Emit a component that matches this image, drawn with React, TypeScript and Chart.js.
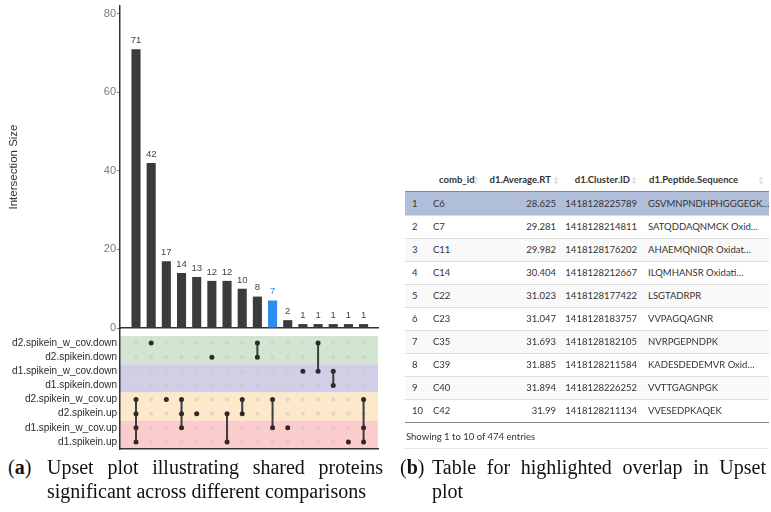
import React, { useEffect, useRef } from 'react';
import { Chart, registerables } from 'chart.js';

Chart.register(...registerables);

// ---------- data ----------
const setNames = [
  'd2.spikein_w_cov.down',
  'd2.spikein.down',
  'd1.spikein_w_cov.down',
  'd1.spikein.down',
  'd2.spikein_w_cov.up',
  'd2.spikein.up',
  'd1.spikein_w_cov.up',
  'd1.spikein.up',
];
const intersectionSizes = [71, 42, 17, 14, 13, 12, 12, 10, 8, 7, 2, 1, 1, 1, 1, 1];
// set indices (rows above) that make up each intersection column
const intersectionMembers = [
  [4, 5, 6, 7],
  [0],
  [4],
  [4, 5, 6],
  [5],
  [1],
  [5, 7],
  [4, 5],
  [0, 1],
  [4, 6],
  [6],
  [2],
  [0, 2],
  [2, 3],
  [7],
  [4, 6, 7],
];
const highlightedIntersection = 9;
const sizeAxisMax = 82;
const sizeTickStep = 20;

const tableHeaders = ['', 'comb_id', 'd1.Average.RT', 'd1.Cluster.ID', 'd1.Peptide.Sequence'];
const combIds = ['C6', 'C7', 'C11', 'C14', 'C22', 'C23', 'C35', 'C39', 'C40', 'C42'];
const averageRT = ['28.625', '29.281', '29.982', '30.404', '31.023', '31.047', '31.693', '31.885', '31.894', '31.99'];
const clusterIds = [
  '1418128225789', '1418128214811', '1418128176202', '1418128212667', '1418128177422',
  '1418128183757', '1418128182105', '1418128211584', '1418128226252', '1418128211134',
];
const peptides = [
  'GSVMNPNDHPHGGGEGK…', 'SATQDDAQNMCK Oxid…', 'AHAEMQNIQR Oxidat…', 'ILQMHANSR Oxidati…', 'LSGTADRPR',
  'VVPAGQAGNR', 'NVRPGEPNDPK', 'KADESDEDEMVR Oxid…', 'VVTTGAGNPGK', 'VVESEDPKAQEK',
];
const totalEntries = 474;

// ---------- styles ----------
const SANS = '"Liberation Sans", Arial, Helvetica, sans-serif';
const DARK = '#3b3b3b';
const BLUE = '#2d8cf0';
const AXIS = '#333333';
const BAND_COLORS = ['#d2e5d1', '#d0cfe6', '#fde9c9', '#fccbcb'];
const X_MIN = -1.055;
const X_MAX = 15.95;

const barLabelPlugin = {
  id: 'barLabels',
  afterDatasetsDraw(chart: any) {
    const meta = chart.getDatasetMeta(0);
    const ctx = chart.ctx;
    ctx.save();
    ctx.font = `9.5px ${SANS}`;
    ctx.textAlign = 'center';
    ctx.textBaseline = 'bottom';
    meta.data.forEach((el: any, i: number) => {
      ctx.fillStyle = i === highlightedIntersection ? BLUE : '#444';
      ctx.fillText(String(intersectionSizes[i]), el.x, el.y - 4);
    });
    ctx.restore();
  },
};

const bandPlugin = {
  id: 'bands',
  beforeDraw(chart: any) {
    const { ctx, chartArea, scales } = chart;
    const y = scales.y;
    ctx.save();
    BAND_COLORS.forEach((c, k) => {
      const y0 = y.getPixelForValue(2 * k - 0.5);
      const y1 = y.getPixelForValue(2 * k + 1.5);
      ctx.fillStyle = c;
      ctx.fillRect(chartArea.left, Math.min(y0, y1), chartArea.right - chartArea.left, Math.abs(y1 - y0));
    });
    ctx.restore();
  },
};

function UpsetBars() {
  const ref = useRef<HTMLCanvasElement>(null);
  useEffect(() => {
    const chart = new Chart(ref.current as HTMLCanvasElement, {
      type: 'bar',
      data: {
        datasets: [
          {
            data: intersectionSizes.map((v, i) => ({ x: i, y: v })) as any,
            backgroundColor: intersectionSizes.map((_, i) => (i === highlightedIntersection ? BLUE : DARK)),
            barPercentage: 0.6,
            categoryPercentage: 1,
          },
        ],
      },
      options: {
        animation: false,
        responsive: false,
        devicePixelRatio: 1,
        layout: { padding: { top: 6, right: 12, bottom: 0, left: 0 } },
        plugins: { legend: { display: false }, tooltip: { enabled: false } },
        scales: {
          x: {
            type: 'linear',
            min: X_MIN,
            max: X_MAX,
            offset: false,
            ticks: { display: false },
            grid: { display: false, drawTicks: false },
            border: { display: true, color: AXIS, width: 1.5 },
            afterFit(s: any) {
              s.height = 8;
              s.paddingLeft = 0;
              s.paddingRight = 0;
            },
          },
          y: {
            type: 'linear',
            min: 0,
            max: sizeAxisMax,
            ticks: {
              stepSize: sizeTickStep,
              includeBounds: false,
              padding: 1,
              color: '#7a7a7a',
              font: { family: SANS, size: 11 },
            },
            grid: { display: true, drawOnChartArea: false, drawTicks: true, tickLength: 3, color: '#777' },
            border: { display: true, color: AXIS, width: 1.5 },
            title: {
              display: true,
              text: 'Intersection Size',
              color: '#333',
              font: { family: SANS, size: 11.5 },
              padding: { top: 7, bottom: 0 },
            },
            afterFit(s: any) {
              s.width = 120;
              s.paddingTop = 0;
              s.paddingBottom = 0;
            },
          },
        },
      } as any,
      plugins: [barLabelPlugin],
    });
    return () => chart.destroy();
  }, []);
  return (
    <canvas
      ref={ref}
      width={390}
      height={336}
      style={{ position: 'absolute', left: 0, top: 0, width: 390, height: 336 }}
    />
  );
}

function UpsetMatrix() {
  const ref = useRef<HTMLCanvasElement>(null);
  useEffect(() => {
    const emptyCells: { x: number; y: number }[] = [];
    intersectionMembers.forEach((m, i) =>
      setNames.forEach((_, r) => {
        if (!m.includes(r)) emptyCells.push({ x: i, y: r });
      })
    );
    const filledCells = intersectionMembers.flatMap((m, i) => m.map((r) => ({ x: i, y: r })));
    const connectors = intersectionMembers
      .map((m, i) => ({ m, i }))
      .filter(({ m }) => m.length > 1)
      .map(({ m, i }) => ({
        data: [
          { x: i, y: Math.min(...m) },
          { x: i, y: Math.max(...m) },
        ],
        showLine: true,
        borderColor: '#3d3d3d',
        borderWidth: 2,
        pointRadius: 0,
      }));

    const chart = new Chart(ref.current as HTMLCanvasElement, {
      type: 'scatter',
      data: {
        datasets: [
          {
            data: filledCells,
            backgroundColor: '#2b2b2b',
            borderColor: '#2b2b2b',
            pointRadius: 2.5,
            borderWidth: 0,
          },
          ...connectors,
          {
            data: emptyCells,
            backgroundColor: 'rgba(200,200,200,0.55)',
            borderColor: 'rgba(200,200,200,0.55)',
            pointRadius: 2.1,
            borderWidth: 0,
          },
        ] as any,
      },
      options: {
        animation: false,
        responsive: false,
        devicePixelRatio: 1,
        layout: { padding: { top: 6, right: 12, bottom: 0, left: 0 } },
        plugins: { legend: { display: false }, tooltip: { enabled: false } },
        scales: {
          x: {
            type: 'linear',
            min: X_MIN,
            max: X_MAX,
            offset: false,
            ticks: { display: false },
            grid: { display: false, drawTicks: false },
            border: { display: true, color: AXIS, width: 1.5 },
            afterFit(s: any) {
              s.height = 4;
              s.paddingLeft = 0;
              s.paddingRight = 0;
            },
          },
          y: {
            type: 'linear',
            reverse: true,
            min: -1.067,
            max: setNames.length - 0.5,
            afterBuildTicks(s: any) {
              s.ticks = setNames.map((_, i) => ({ value: i }));
            },
            ticks: {
              autoSkip: false,
              padding: 3,
              color: '#2a2a2a',
              font: { family: SANS, size: 10 },
              callback: (v: any) => setNames[v as number],
            },
            grid: { display: false, drawTicks: false },
            border: { display: true, color: AXIS, width: 1.5 },
            afterFit(s: any) {
              s.width = 120;
              s.paddingTop = 0;
              s.paddingBottom = 0;
            },
          },
        },
      } as any,
      plugins: [bandPlugin],
    });
    return () => chart.destroy();
  }, []);
  return (
    <canvas
      ref={ref}
      width={390}
      height={131}
      style={{ position: 'absolute', left: 0, top: 322, width: 390, height: 131 }}
    />
  );
}

function SortIcon({ right }: { right: number }) {
  return (
    <span style={{ position: 'absolute', right, top: 7, width: 5, height: 10 }}>
      <span
        style={{
          position: 'absolute', top: 0, left: 0, width: 0, height: 0,
          borderLeft: '2.5px solid transparent', borderRight: '2.5px solid transparent',
          borderBottom: '4px solid #e0e0e0',
        }}
      />
      <span
        style={{
          position: 'absolute', top: 5, left: 0, width: 0, height: 0,
          borderLeft: '2.5px solid transparent', borderRight: '2.5px solid transparent',
          borderTop: '4px solid #e0e0e0',
        }}
      />
    </span>
  );
}

const COL_W = [23, 52, 81, 80, 128];
const CELL_ALIGN: ('left' | 'right')[] = ['left', 'left', 'right', 'right', 'left'];
const BODY_PAD = [
  { paddingLeft: 7 },
  { paddingLeft: 5 },
  { paddingRight: 5 },
  { paddingRight: 4 },
  { paddingLeft: 7 },
];
const HEAD_PAD = [
  { paddingLeft: 7 },
  { paddingLeft: 11 },
  { paddingRight: 10 },
  { paddingRight: 11 },
  { paddingLeft: 8 },
];
const ICON_RIGHT = [0, 1, 2, 4, 5];

function DataTable() {
  const rowH = 23;
  return (
    <div
      style={{
        position: 'absolute', left: 405, top: 169, width: 364,
        fontFamily: 'Lato, "Open Sans", sans-serif', fontSize: 9.5, color: '#333',
      }}
    >
      <div style={{ display: 'flex', height: rowH, boxSizing: 'border-box', borderBottom: '1px solid #888' }}>
        {tableHeaders.map((h, c) => (
          <div
            key={c}
            style={{
              position: 'relative', width: COL_W[c], boxSizing: 'border-box', textAlign: CELL_ALIGN[c],
              fontWeight: 700, lineHeight: `${rowH - 1}px`, whiteSpace: 'nowrap', ...HEAD_PAD[c],
            }}
          >
            {h}
            {c > 0 && <SortIcon right={ICON_RIGHT[c]} />}
          </div>
        ))}
      </div>
      {combIds.map((id, r) => {
        const cells = [String(r + 1), id, averageRT[r], clusterIds[r], peptides[r]];
        const bg = r === 0 ? '#b0bed9' : r % 2 === 0 ? '#f9f9f9' : '#ffffff';
        return (
          <div
            key={r}
            style={{
              display: 'flex', height: rowH, boxSizing: 'border-box', background: bg,
              borderTop: r === 0 ? 'none' : '1px solid #dddddd',
            }}
          >
            {cells.map((t, c) => (
              <div
                key={c}
                style={{
                  width: COL_W[c], boxSizing: 'border-box', textAlign: CELL_ALIGN[c],
                  lineHeight: `${r === 0 ? rowH : rowH - 1}px`, whiteSpace: 'nowrap', overflow: 'hidden', ...BODY_PAD[c],
                }}
              >
                {t}
              </div>
            ))}
          </div>
        );
      })}
      <div style={{ height: 0, borderTop: '1px solid #888' }} />
      <div style={{ paddingLeft: 1, marginTop: 5, lineHeight: '17px' }}>
        Showing 1 to {combIds.length} of {totalEntries} entries
      </div>
      <div style={{ position: 'absolute', left: -2, top: 279, width: 366, height: 1, background: '#e8e8e8' }} />
    </div>
  );
}

function Caption({ left, label, line1, line2, textLeft, textWidth }: any) {
  return (
    <div
      style={{
        position: 'absolute', left, top: 455, width: textLeft + textWidth,
        fontFamily: '"Liberation Serif", "DejaVu Serif", serif', fontSize: 20, lineHeight: '24px', color: '#111',
      }}
    >
      <div style={{ position: 'absolute', left: 0, top: 0 }}>
        (<b>{label}</b>)
      </div>
      <div style={{ position: 'absolute', left: textLeft, top: 0, width: textWidth }}>
        <div style={{ textAlign: 'justify', textAlignLast: 'justify' as any }}>{line1}</div>
        <div style={{ textAlign: 'left' }}>{line2}</div>
      </div>
    </div>
  );
}

export default function App() {
  return (
    <div
      style={{
        position: 'fixed', left: 0, top: 0, width: 771, height: 512,
        background: '#ffffff', overflow: 'hidden',
      }}
    >
      <UpsetBars />
      <UpsetMatrix />
      <DataTable />
      <Caption
        left={8}
        label="a"
        line1="Upset plot illustrating shared proteins"
        line2="significant across different comparisons"
        textLeft={39}
        textWidth={336}
      />
      <Caption
        left={400}
        label="b"
        line1="Table for highlighted overlap in Upset"
        line2="plot"
        textLeft={32}
        textWidth={334}
      />
    </div>
  );
}
